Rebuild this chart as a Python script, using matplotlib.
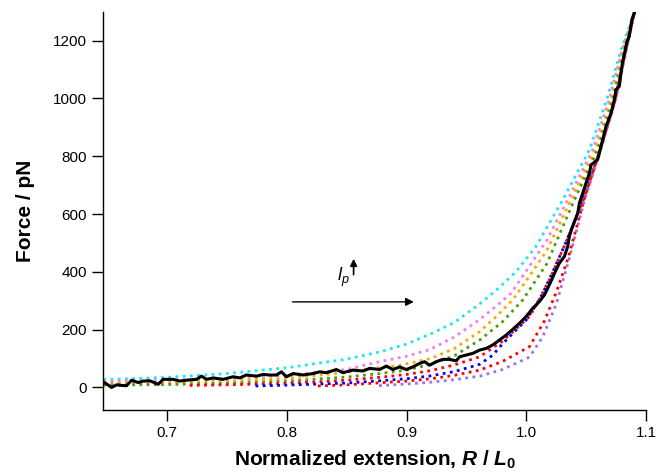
import matplotlib
matplotlib.use("Agg")
import matplotlib.pyplot as plt

plt.rcParams['font.family'] = ['Liberation Sans', 'DejaVu Sans']
plt.rcParams['mathtext.fontset'] = 'custom'
plt.rcParams['mathtext.rm'] = 'Liberation Sans:bold'
plt.rcParams['mathtext.it'] = 'Liberation Sans:bold:italic'
plt.rcParams['mathtext.bf'] = 'Liberation Sans:bold'
plt.rcParams['mathtext.sf'] = 'Liberation Sans:italic'

# ---------------- data ----------------
cyan_x = [0.647, 0.70, 0.75, 0.80, 0.85, 0.8775, 0.90, 0.92, 0.94, 0.961, 0.975, 0.991, 1.0077, 1.0303, 1.0525, 1.0670, 1.0790, 1.09]
cyan_y = [27, 35, 48, 68, 98, 123, 150, 185, 225, 289, 337, 399, 486, 649, 822, 995, 1169, 1296]

pink_x = [0.647, 0.70, 0.75, 0.80, 0.85, 0.8775, 0.90, 0.92, 0.94, 0.961, 0.975, 0.987, 1.002, 1.017, 1.0344, 1.0553, 1.0690, 1.0800, 1.09]
pink_y = [20, 25, 31, 42, 62, 89, 108, 132, 175, 235, 282, 325, 416, 509, 649, 822, 995, 1169, 1296]

orange_x = [0.647, 0.70, 0.75, 0.80, 0.85, 0.8775, 0.894, 0.92, 0.94, 0.961, 0.9747, 0.9886, 1.002, 1.017, 1.0372, 1.0575, 1.0705, 1.0810, 1.09]
orange_y = [14, 17, 22, 32, 52, 68, 76, 100, 135, 193, 245, 303, 382, 474, 649, 822, 995, 1169, 1296]

green_x = [0.647, 0.70, 0.75, 0.80, 0.85, 0.8775, 0.90, 0.92, 0.94, 0.961, 0.98, 0.997, 1.017, 1.040, 1.0594, 1.0720, 1.0820, 1.09]
green_y = [8, 10, 14, 22, 36, 48, 60, 80, 110, 164, 227, 303, 428, 649, 822, 995, 1169, 1296]

red1_x = [0.719, 0.75, 0.80, 0.85, 0.8775, 0.90, 0.92, 0.94, 0.961, 0.98, 1.0025, 1.009, 1.020, 1.0317, 1.0475, 1.0615, 1.0740, 1.0830, 1.09]
red1_y = [7, 9, 14, 25, 35, 45, 58, 78, 106, 160, 245, 290, 380, 490, 649, 822, 995, 1169, 1296]

blue_x = [0.774, 0.80, 0.85, 0.8775, 0.90, 0.92, 0.94, 0.961, 0.972, 0.9803, 0.9886, 0.9997, 1.008, 1.0136, 1.022, 1.0317, 1.0475, 1.0615, 1.0740, 1.0830, 1.09]
blue_y = [5, 8, 15, 23, 30, 40, 55, 80, 112, 152, 187, 233, 285, 325, 400, 490, 649, 822, 995, 1169, 1296]

red2_x = [0.826, 0.85, 0.8775, 0.90, 0.92, 0.94, 0.961, 0.98, 1.0025, 1.015, 1.025, 1.035, 1.0480, 1.0615, 1.0740, 1.0830, 1.09]
red2_y = [5, 9, 16, 22, 30, 42, 60, 90, 141, 230, 330, 450, 649, 822, 995, 1169, 1296]

purple_x = [0.877, 0.90, 0.92, 0.94, 0.961, 0.98, 1.0025, 1.0136, 1.025, 1.036, 1.0485, 1.0620, 1.0745, 1.0835, 1.09]
purple_y = [6, 12, 18, 27, 39, 62, 105, 175, 290, 450, 649, 822, 995, 1169, 1296]

data_x = [0.6483, 0.6539, 0.6581, 0.6622, 0.6664, 0.6706, 0.6761, 0.6803, 0.6858, 0.6928, 0.6969,
          0.7053, 0.7108, 0.7164, 0.7247, 0.7289, 0.7331, 0.7386, 0.7469, 0.7553, 0.7608, 0.7664,
          0.7747, 0.7803, 0.7858, 0.7914, 0.7956, 0.7997, 0.8053, 0.8136, 0.8219, 0.8275, 0.8331,
          0.8414, 0.8469, 0.8553, 0.8636, 0.8692, 0.8775, 0.8831, 0.8886, 0.8942, 0.8997, 0.9053,
          0.9108, 0.9150, 0.9192, 0.9247, 0.9303, 0.9358, 0.9414, 0.9442, 0.9497, 0.9553, 0.9608,
          0.9664, 0.9719, 0.9775, 0.9831, 0.9886, 0.9942, 0.9997, 1.0053, 1.0108, 1.0150, 1.0180,
          1.0210, 1.0240, 1.0275, 1.0317, 1.0344, 1.0358, 1.0380, 1.0428, 1.0442, 1.0470, 1.0497,
          1.0525, 1.0539, 1.0594, 1.0622, 1.0664, 1.0706, 1.0733, 1.0747, 1.0775, 1.0789, 1.0803,
          1.0825, 1.0836, 1.0858, 1.0880, 1.0900]
data_y = [16, 0, 9, 7, 6, 25, 17, 22, 23, 11, 28,
          28, 22, 25, 28, 39, 28, 33, 28, 37, 33, 43,
          39, 45, 43, 43, 54, 37, 48, 43, 48, 54, 51,
          62, 51, 60, 57, 66, 62, 74, 62, 71, 62, 71,
          83, 89, 77, 89, 97, 97, 92, 106, 112, 118, 129,
          135, 147, 164, 181, 201, 222, 245, 274, 297, 320, 345,
          372, 400, 430, 453, 487, 522, 551, 603, 638, 672, 707,
          741, 770, 788, 834, 903, 949, 995, 1030, 1042, 1088, 1128,
          1169, 1192, 1215, 1273, 1296]

x_ticks = [0.7, 0.8, 0.9, 1.0, 1.1]
y_ticks = [0, 200, 400, 600, 800, 1000, 1200]

curves = [
    (cyan_x, cyan_y, '#1ee6f0'),
    (pink_x, pink_y, '#f07fe6'),
    (orange_x, orange_y, '#ffa500'),
    (green_x, green_y, '#4f9a10'),
    (red1_x, red1_y, '#ff0000'),
    (blue_x, blue_y, '#0000ff'),
    (red2_x, red2_y, '#ff0000'),
    (purple_x, purple_y, '#a070e0'),
]

# ---------------- figure ----------------
fig = plt.figure(figsize=(6.59, 4.76), dpi=100)
ax = fig.add_axes([0.1568, 0.1387, 0.9807 - 0.1568, 0.9754 - 0.1387])

for xs, ys, c in curves:
    ax.plot(xs, ys, color=c, lw=2.0, linestyle=(0, (1, 1.6)), dash_capstyle='butt', zorder=2)

ax.plot(data_x, data_y, color='black', lw=2.2, zorder=3)

ax.set_xlim(0.647, 1.1)
ax.set_ylim(-78, 1300)
ax.set_xticks(x_ticks)
ax.set_xticklabels(['0.7', '0.8', '0.9', '1.0', '1.1'])
ax.set_yticks(y_ticks)
ax.set_yticklabels([str(v) for v in y_ticks])

for s in ['top', 'right']:
    ax.spines[s].set_visible(False)
for s in ['left', 'bottom']:
    ax.spines[s].set_linewidth(1.0)
ax.tick_params(direction='out', length=7.8, width=1.0, labelsize=11, pad=4)

ax.set_xlabel(r'Normalized extension, $\mathit{R}$ / $\mathit{L}_{\mathit{0}}$',
              fontsize=15, fontweight='bold', labelpad=6)
ax.set_ylabel('Force / pN', fontsize=15, fontweight='bold', labelpad=13)

# annotations
ax.annotate('', xy=(0.9061, 296), xytext=(0.8048, 296),
            arrowprops=dict(arrowstyle='-|>', color='black', lw=1.0, mutation_scale=12,
                            shrinkA=0, shrinkB=0))
ax.text(0.8475, 380, r'$\mathsf{l_p}$', fontsize=13, ha='center', va='center')
ax.annotate('', xy=(0.8558, 445), xytext=(0.8558, 390),
            arrowprops=dict(arrowstyle='-|>', color='black', lw=1.2, mutation_scale=10,
                            shrinkA=0, shrinkB=0))

fig.savefig('out.png', dpi=100)
